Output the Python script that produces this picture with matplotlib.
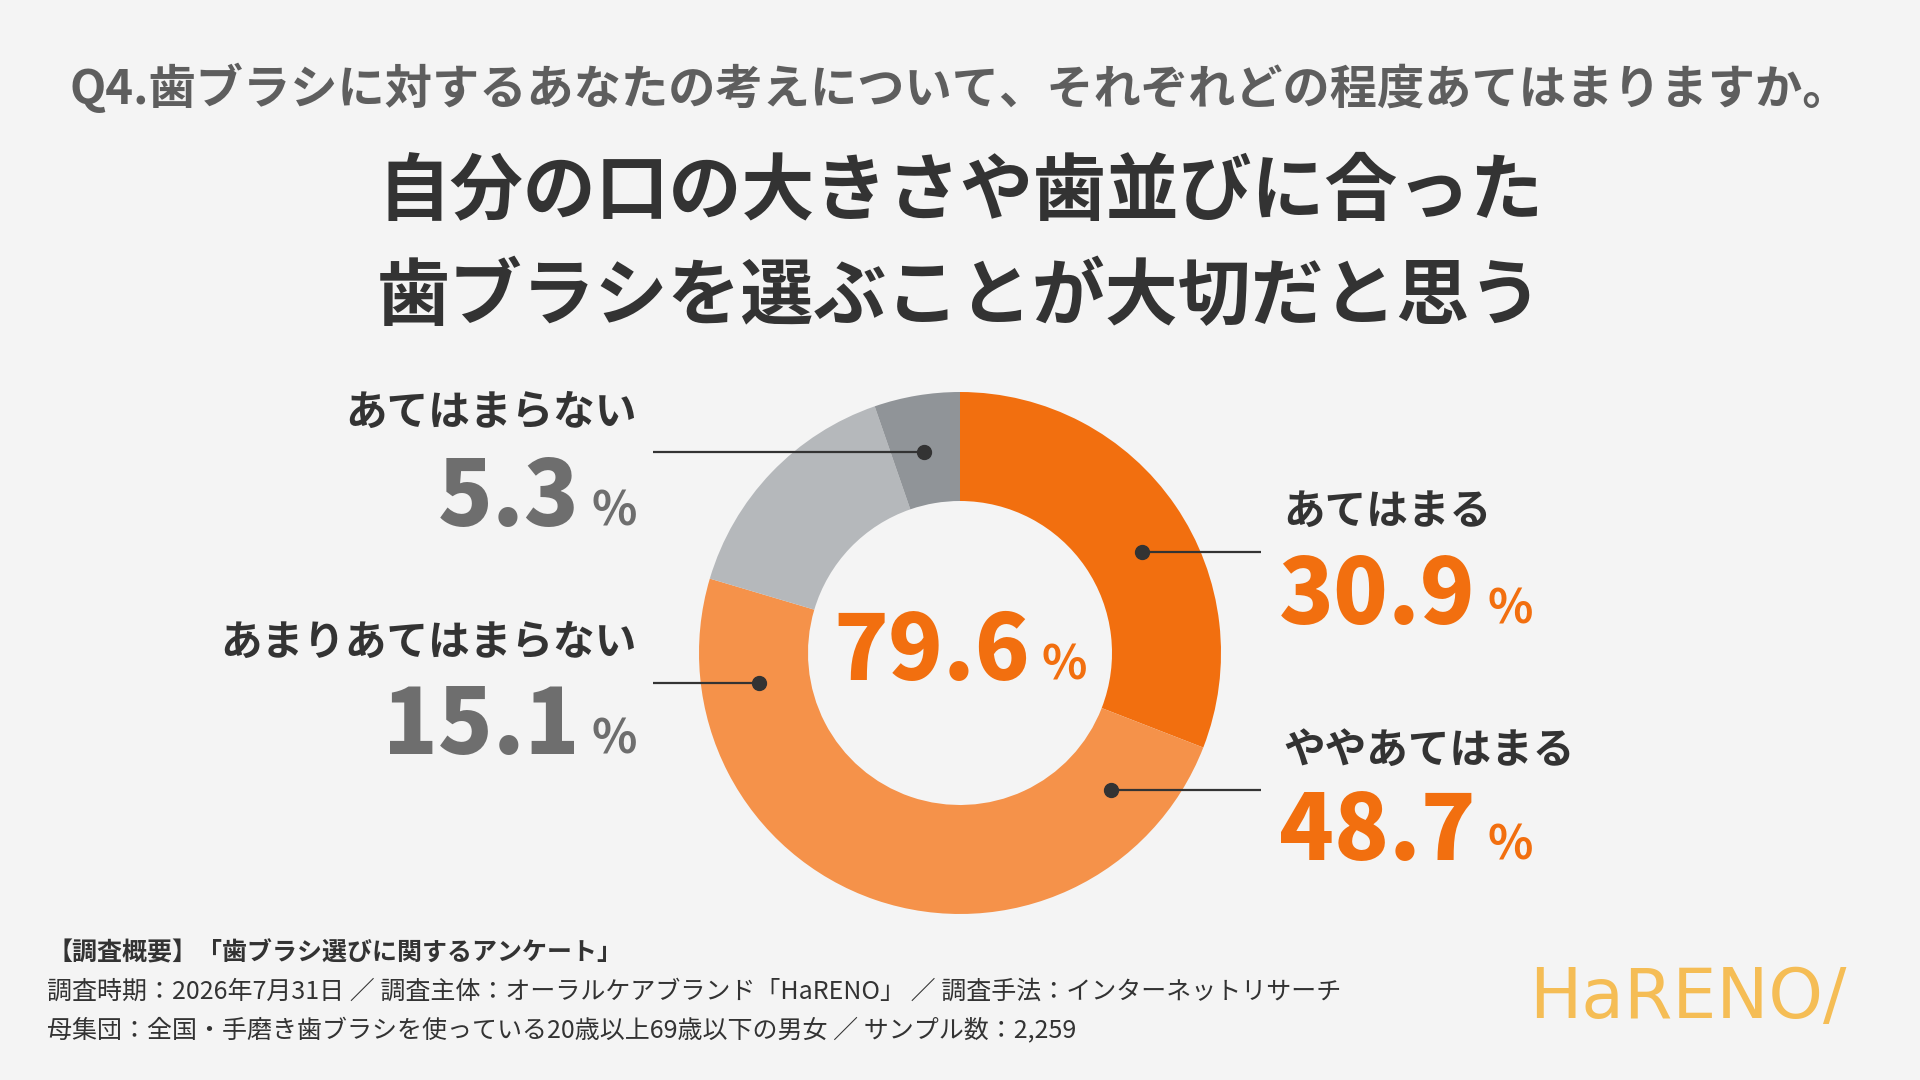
import matplotlib
matplotlib.use("Agg")
import matplotlib.pyplot as plt

plt.rcParams['font.family'] = ['Noto Sans CJK JP', 'DejaVu Sans']

# data
labels = ['あてはまる', 'ややあてはまる', 'あまりあてはまらない', 'あてはまらない']
values = [30.9, 48.7, 15.1, 5.3]
center_total = 79.6
question = 'Q4.歯ブラシに対するあなたの考えについて、それぞれどの程度あてはまりますか。'
title_lines = ['自分の口の大きさや歯並びに合った', '歯ブラシを選ぶことが大切だと思う']
footer_lines = [
    '【調査概要】「歯ブラシ選びに関するアンケート」',
    '調査時期：2026年7月31日 ／ 調査主体：オーラルケアブランド「HaRENO」 ／ 調査手法：インターネットリサーチ',
    '母集団：全国・手磨き歯ブラシを使っている20歳以上69歳以下の男女 ／ サンプル数：2,259',
]
logo = 'HaRENO/'

# style
BG = '#F4F4F4'
DARK = '#333333'
ORANGE = '#F26F0F'
GRAYNUM = '#6E6E6E'
slice_colors = ['#F26F0F', '#F5924A', '#B5B8BB', '#909498']
num_colors = [ORANGE, ORANGE, GRAYNUM, GRAYNUM]

W, H = 1920, 1080
def Y(y):
    return H - y

# layout (pixel positions, y from top)
cx, cy = 960, 653
R_out, ring = 261, 109
# (dot x, dot y, line end x, side, label y, number baseline y)
anno = [
    (1142, 552, 1261, 'right', 512, 624),
    (1111, 790, 1261, 'right', 751, 860),
    (759, 683, 653, 'left', 643, 754),
    (924, 452, 653, 'left', 413, 526),
]
right_x = 1283
left_x = 637

fig = plt.figure(figsize=(19.2, 10.8), dpi=100, facecolor=BG)
ax = fig.add_axes([0, 0, 1, 1])
ax.set_facecolor(BG)

ax.pie(values, colors=slice_colors, startangle=90, counterclock=False,
       center=(cx, Y(cy)), radius=R_out,
       wedgeprops=dict(width=ring, linewidth=0))
ax.set_xlim(0, W)
ax.set_ylim(0, H)
ax.set_aspect('equal')
ax.axis('off')

fig.canvas.draw()
renderer = fig.canvas.get_renderer()

def width_px(t):
    bb = t.get_window_extent(renderer=renderer)
    return bb.width

# header
ax.text(W / 2, Y(89), question, fontsize=34, fontweight='bold', color='#5E5E5E',
        ha='center', va='center')
for i, line in enumerate(title_lines):
    ax.text(W / 2, Y(193 + i * 105), line, fontsize=52.5, fontweight='bold', color=DARK,
            ha='center', va='center')

NUM_FS = 65
PCT_FS = 34
GAP = 12
NUM_W = 'heavy'

for i, (dx, dy, lx, side, ly, ny) in enumerate(anno):
    ax.plot([dx, lx], [Y(dy), Y(dy)], color=DARK, lw=1.6, solid_capstyle='butt')
    ax.plot(dx, Y(dy), 'o', color=DARK, markersize=10)
    num = f'{values[i]:.1f}'
    if side == 'right':
        ax.text(right_x, Y(ly), labels[i], fontsize=30, fontweight='bold', color=DARK,
                ha='left', va='center')
        t = ax.text(right_x - 4, Y(ny), num, fontsize=NUM_FS, fontweight=NUM_W,
                    color=num_colors[i], ha='left', va='baseline')
        w = width_px(t)
        ax.text(right_x - 4 + w + GAP, Y(ny), '%', fontsize=PCT_FS, fontweight='bold',
                color=num_colors[i], ha='left', va='baseline')
    else:
        ax.text(left_x, Y(ly), labels[i], fontsize=30, fontweight='bold', color=DARK,
                ha='right', va='center')
        p = ax.text(left_x, Y(ny), '%', fontsize=PCT_FS, fontweight='bold',
                    color=num_colors[i], ha='right', va='baseline')
        w = width_px(p)
        ax.text(left_x - w - GAP, Y(ny), num, fontsize=NUM_FS, fontweight=NUM_W,
                color=num_colors[i], ha='right', va='baseline')

# center total
ct = ax.text(0, Y(680), f'{center_total:.1f}', fontsize=NUM_FS, fontweight=NUM_W,
             color=ORANGE, ha='left', va='baseline')
cp = ax.text(0, Y(680), '%', fontsize=PCT_FS, fontweight='bold', color=ORANGE,
             ha='left', va='baseline')
wn, wp = width_px(ct), width_px(cp)
x0 = cx - (wn + GAP + wp) / 2
ct.set_x(x0)
cp.set_x(x0 + wn + GAP)

# footer
for i, line in enumerate(footer_lines):
    ax.text(47, Y(953 + i * 39), line, fontsize=18,
            fontweight='bold' if i == 0 else 'normal', color=DARK,
            ha='left', va='center')

ax.text(1688, Y(998), logo, fontsize=50, color='#F5BD55', ha='center', va='center',
        family='DejaVu Sans')

fig.savefig('out.png', dpi=100, facecolor=BG)
